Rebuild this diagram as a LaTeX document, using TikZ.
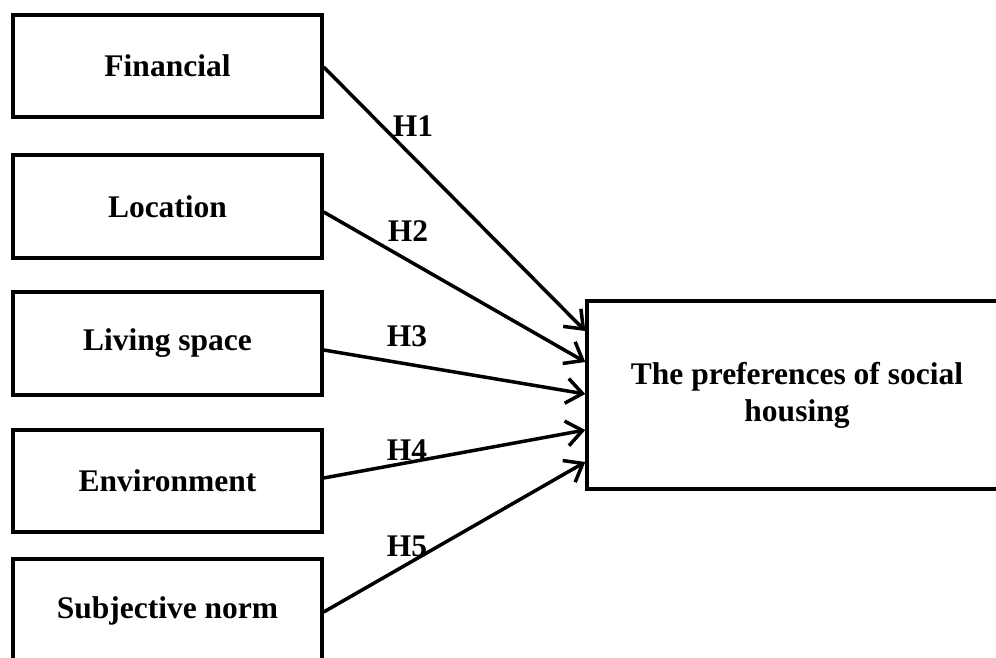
\documentclass[tikz,border=0pt]{standalone}
\usepackage{fontspec}
\setmainfont{Liberation Serif}
\usetikzlibrary{arrows.meta}
\begin{document}
\begin{tikzpicture}[x=1pt,y=-1pt,
  box/.style={draw=black,line width=3.4pt,rectangle,minimum width=309pt,minimum height=102pt,inner sep=0pt,
    font=\bfseries\fontsize{31.5}{37}\selectfont},
  hlab/.style={inner sep=0pt,font=\bfseries\fontsize{31.5}{37}\selectfont},
  conn/.style={line width=3.5pt,-{Straight Barb[length=16pt,width=25pt,line width=3.5pt]}}]
\useasboundingbox (0,0) rectangle (996,658);
\node[box] (b1) at (167.5,66) {Financial};
\node[box,minimum height=103pt] (b2) at (167.5,206.5) {Location};
\node[box,minimum height=103pt] (b3) at (167.5,343.5) {Living space};
\node[box] (b4) at (167.5,481) {Environment};
\node[box,minimum height=103pt] (b5) at (167.5,610.5) {Subjective norm};
\node[box,minimum width=420pt,minimum height=188pt,align=center] (R) at (797,395) {The preferences of social\\housing};
\draw[conn] ([yshift=-1pt]b1.east) -- ([yshift=64pt]R.west);
\draw[conn] ([yshift=-5.5pt]b2.east) -- ([yshift=33pt]R.west);
\draw[conn] ([yshift=-6.5pt]b3.east) -- ([yshift=1pt]R.west);
\draw[conn] ([yshift=3pt]b4.east) -- ([yshift=-35pt]R.west);
\draw[conn] ([yshift=-1.5pt]b5.east) -- ([yshift=-67pt]R.west);
\node[hlab] (h1) at (413,126) {H1};
\node[hlab] (h2) at (408,231) {H2};
\node[hlab] (h3) at (407,336) {H3};
\node[hlab] (h4) at (407,450) {H4};
\node[hlab] (h5) at (407,546) {H5};
\end{tikzpicture}
\end{document}
